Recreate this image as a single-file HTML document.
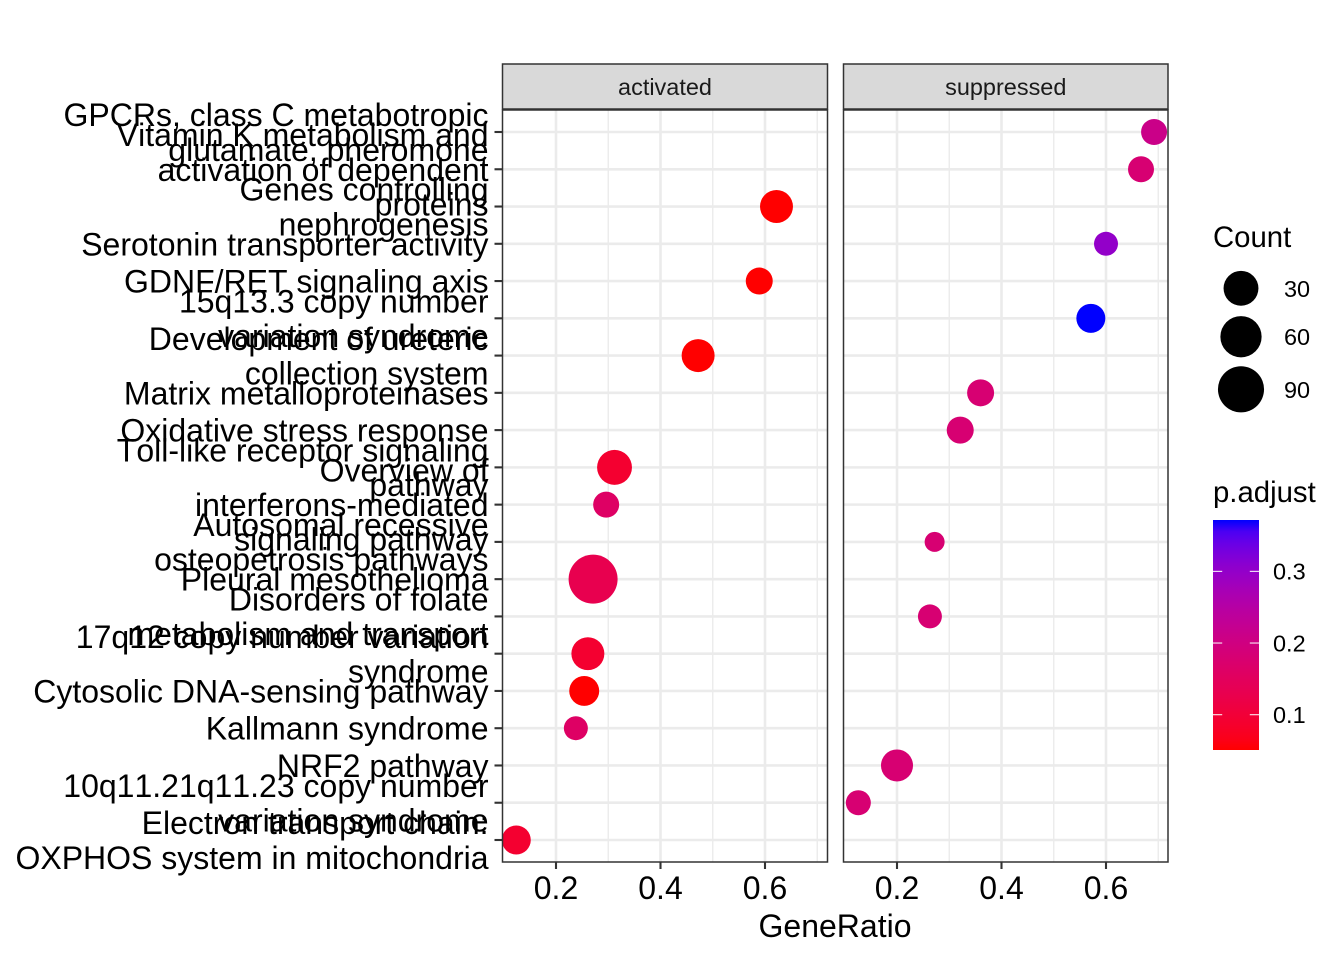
<!DOCTYPE html>
<html>
<head>
<meta charset="utf-8">
<title>Dot plot</title>
<style>
html,body{margin:0;padding:0;background:#fff;}
svg{display:block;}
text{font-family:"Liberation Sans",sans-serif;font-kerning:none;}
</style>
</head>
<body>
<svg id="chart" xmlns="http://www.w3.org/2000/svg" width="1344" height="960" viewBox="0 0 1344 960"></svg>
<script>
const categories = [
  "GPCRs, class C metabotropic\nglutamate, pheromone",
  "Vitamin K metabolism and\nactivation of dependent\nproteins",
  "Genes controlling\nnephrogenesis",
  "Serotonin transporter activity",
  "GDNF/RET signaling axis",
  "15q13.3 copy number\nvariation syndrome",
  "Development of ureteric\ncollection system",
  "Matrix metalloproteinases",
  "Oxidative stress response",
  "Toll-like receptor signaling\npathway",
  "Overview of\ninterferons-mediated\nsignaling pathway",
  "Autosomal recessive\nosteopetrosis pathways",
  "Pleural mesothelioma",
  "Disorders of folate\nmetabolism and transport",
  "17q12 copy number variation\nsyndrome",
  "Cytosolic DNA-sensing pathway",
  "Kallmann syndrome",
  "NRF2 pathway",
  "10q11.21q11.23 copy number\nvariation syndrome",
  "Electron transport chain:\nOXPHOS system in mitochondria"
];
const activatedRatio = [null,null,0.622,null,0.589,null,0.472,null,null,0.312,0.296,null,0.271,null,0.261,0.254,0.238,null,null,0.124];
const activatedCount = [null,null,23,null,7.4,null,23,null,null,30,5.7,null,111,null,23,14,3.1,null,null,11.6];
const activatedPadj = [null,null,0.051,null,0.051,null,0.051,null,null,0.09,0.16,null,0.13,null,0.09,0.051,0.16,null,null,0.09];
const suppressedRatio = [0.692,0.667,null,0.600,null,0.571,null,0.360,0.321,null,null,0.272,null,0.263,null,null,null,0.200,0.126,null];
const suppressedCount = [5.7,5.7,null,3.1,null,11.6,null,7.4,7.4,null,null,1,null,3.1,null,null,null,20,4.3,null];
const suppressedPadj = [0.21,0.18,null,0.30,null,0.3716,null,0.18,0.18,null,null,0.18,null,0.18,null,null,null,0.18,0.18,null];
const xMajorTicks = [0.2,0.4,0.6];
const xMinorTicks = [0.3,0.5,0.7];
const xTickLabels = ["0.2","0.4","0.6"];
const panelNames = ["activated","suppressed"];
const sizeBreaks = [30,60,90];
const colorBreaks = [0.1,0.2,0.3];
const colorBreakLabels = ["0.1","0.2","0.3"];
const pDomain = [0.0508,0.3716];
const countDomain = [1,111];

const svg = document.getElementById('chart');
const NS = 'http://www.w3.org/2000/svg';
function mk(tag, attrs, parent, txt){
  const el = document.createElementNS(NS, tag);
  for(const k in attrs) el.setAttribute(k, attrs[k]);
  if(txt!==undefined) el.textContent = txt;
  (parent||svg).appendChild(el);
  return el;
}
function yScale(i){ return 132 + i*(840-132)/19; }
function rScale(c){ return 10 + 14.5*Math.sqrt((c-countDomain[0])/(countDomain[1]-countDomain[0])); }
function srgb2lin(c){ c/=255; return c<=0.04045?c/12.92:Math.pow((c+0.055)/1.055,2.4); }
function lin2srgb(c){ c=Math.max(0,Math.min(1,c)); return Math.round(255*(c<=0.0031308?12.92*c:1.055*Math.pow(c,1/2.4)-0.055)); }
function rgb2lab(r,g,b){
  r=srgb2lin(r);g=srgb2lin(g);b=srgb2lin(b);
  const X=(0.4124564*r+0.3575761*g+0.1804375*b)/0.95047,Y=0.2126729*r+0.7151522*g+0.072175*b,Z=(0.0193339*r+0.119192*g+0.9503041*b)/1.08883;
  const f=t=>t>0.008856?Math.cbrt(t):7.787*t+16/116;
  return [116*f(Y)-16,500*(f(X)-f(Y)),200*(f(Y)-f(Z))];
}
function lab2rgb(L,a,b){
  const fy=(L+16)/116,fx=fy+a/500,fz=fy-b/200;
  const g=t=>t*t*t>0.008856?t*t*t:(t-16/116)/7.787;
  const X=g(fx)*0.95047,Y=g(fy),Z=g(fz)*1.08883;
  const r=3.2404542*X-1.5371385*Y-0.4985314*Z,gg=-0.969266*X+1.8760108*Y+0.041556*Z,bb=0.0556434*X-0.2040259*Y+1.0572252*Z;
  return 'rgb('+lin2srgb(r)+','+lin2srgb(gg)+','+lin2srgb(bb)+')';
}
const labRed = rgb2lab(255,0,0), labBlue = rgb2lab(0,0,255);
function colorScale(p){
  const t=Math.max(0,Math.min(1,(p-pDomain[0])/(pDomain[1]-pDomain[0])));
  return lab2rgb(labRed[0]+(labBlue[0]-labRed[0])*t,labRed[1]+(labBlue[1]-labRed[1])*t,labRed[2]+(labBlue[2]-labRed[2])*t);
}
function kebab(s){ return s.toLowerCase().replace(/[^a-z0-9]+/g,'-').replace(/^-|-$/g,''); }

const panels = [
  {name:panelNames[0],left:502.5,right:827.5,x02:556,ratio:activatedRatio,count:activatedCount,padj:activatedPadj},
  {name:panelNames[1],left:843.5,right:1168,x02:897,ratio:suppressedRatio,count:suppressedCount,padj:suppressedPadj}
];
const panelTop = 110, panelBottom = 862, xUnit = 522.5;

panels.forEach(function(p){
  const xScale = function(v){ return p.x02 + (v-0.2)*xUnit; };
  const rectBg = mk('rect',{x:p.left,y:panelTop,width:p.right-p.left,height:panelBottom-panelTop,fill:'#fff'});
  
  
  xMinorTicks.forEach(function(v){
    const l = mk('line',{x1:xScale(v),x2:xScale(v),y1:panelTop,y2:panelBottom,stroke:'#ebebeb','stroke-width':1.4});
    
    
  });
  xMajorTicks.forEach(function(v){
    const l = mk('line',{x1:xScale(v),x2:xScale(v),y1:panelTop,y2:panelBottom,stroke:'#ebebeb','stroke-width':2.6});
    
    
  });
  categories.forEach(function(c,i){
    const l = mk('line',{x1:p.left,x2:p.right,y1:yScale(i),y2:yScale(i),stroke:'#ebebeb','stroke-width':2.6});
    
    
  });
  categories.forEach(function(c,i){
    if(p.ratio[i]===null) return;
    const d = mk('circle',{cx:xScale(p.ratio[i]),cy:yScale(i),r:rScale(p.count[i]),fill:colorScale(p.padj[i])});
    
    
  });
  const border = mk('rect',{x:p.left,y:panelTop,width:p.right-p.left,height:panelBottom-panelTop,fill:'none',stroke:'#333','stroke-width':1.5});
  
  
  const strip = mk('rect',{x:p.left,y:64,width:p.right-p.left,height:45,fill:'#d9d9d9',stroke:'#333','stroke-width':1.5});
  
  
  const st = mk('text',{x:(p.left+p.right)/2,y:95,'text-anchor':'middle','font-size':23.47,fill:'#1a1a1a'},svg,p.name);
  
  
  xMajorTicks.forEach(function(v,k){
    const t = mk('line',{x1:xScale(v),x2:xScale(v),y1:panelBottom,y2:869,stroke:'#333','stroke-width':2.1});
    
    
    const lb = mk('text',{x:xScale(v),y:899,'text-anchor':'middle','font-size':32,fill:'#000'},svg,xTickLabels[k]);
    
    
  });
});

categories.forEach(function(c,i){
  const t = mk('line',{x1:494.5,x2:502.5,y1:yScale(i),y2:yScale(i),stroke:'#333','stroke-width':2.1});
  
  
  const lines = c.split('\n');
  lines.forEach(function(line,j){
    const by = yScale(i) + 11.5 + (j-(lines.length-1)/2)*34.56;
    const lb = mk('text',{x:488.5,y:by,'text-anchor':'end','font-size':32,fill:'#000'},svg,line);
    
    
  });
});

const xTitle = mk('text',{x:835,y:937,'text-anchor':'middle','font-size':32,fill:'#000'},svg,'GeneRatio');



const countTitle = mk('text',{x:1213,y:247,'font-size':29.33,fill:'#000'},svg,'Count');



let legendCy = [288.3,336.7,389.3];
sizeBreaks.forEach(function(b,k){
  const c = mk('circle',{cx:1241,cy:legendCy[k],r:rScale(b),fill:'#000'});
  
  
  const t = mk('text',{x:1284,y:legendCy[k]+8.5,'font-size':23.47,fill:'#000'},svg,String(b));
  
  
});

const padjTitle = mk('text',{x:1213,y:502,'font-size':29.33,fill:'#000'},svg,'p.adjust');



const defs = mk('defs',{});
const grad = mk('linearGradient',{id:'cbar',x1:0,y1:1,x2:0,y2:0},defs);
for(let s=0;s<=20;s++){
  mk('stop',{offset:(s/20),'stop-color':colorScale(pDomain[0]+(pDomain[1]-pDomain[0])*s/20)},grad);
}
const barTop = 520, barBottom = 750;
function barY(p){ return barBottom-(p-pDomain[0])/(pDomain[1]-pDomain[0])*(barBottom-barTop); }
const bar = mk('rect',{x:1213,y:barTop,width:46,height:barBottom-barTop,fill:'url(#cbar)'});


colorBreaks.forEach(function(b,k){
  const y = barY(b);
  const a = mk('line',{x1:1213,x2:1222.2,y1:y,y2:y,stroke:'#fff','stroke-width':1});
  
  
  const e = mk('line',{x1:1249.8,x2:1259,y1:y,y2:y,stroke:'#fff','stroke-width':1});
  
  
  const t = mk('text',{x:1273,y:y+8.3,'font-size':23.47,fill:'#000'},svg,colorBreakLabels[k]);
  
  
});
</script>
</body>
</html>
